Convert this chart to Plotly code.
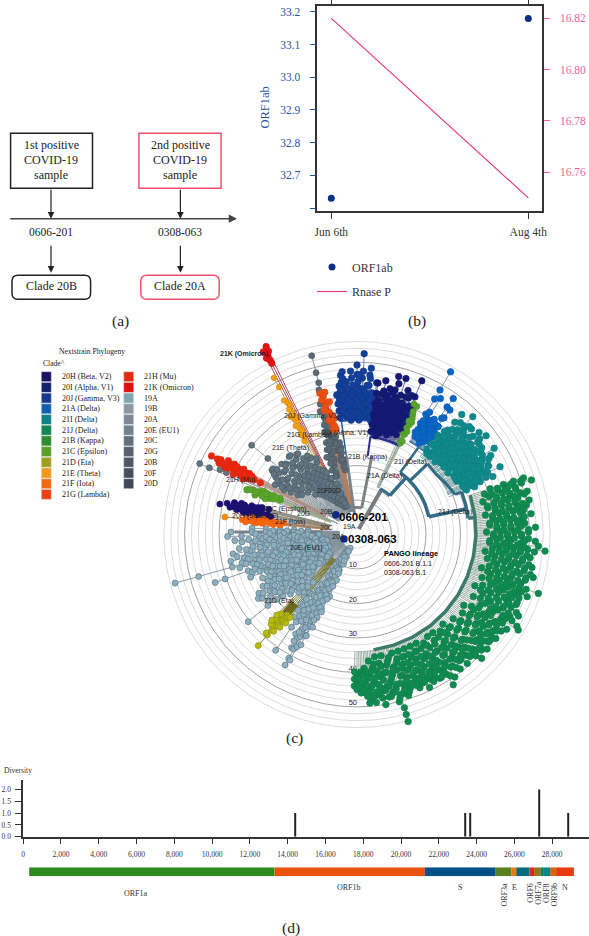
import plotly.graph_objects as go

W, H = 589, 936
SERIF = "Liberation Serif"
SANS = "Liberation Sans"

# ---------- panel (b) data
DATES = ["Jun 6th", "Aug 4th"]
ORF1AB = [32.63, 33.18]
RNASEP = [16.82, 16.75]

# ---------- panel (d) data
DIV_POS = [14390, 23410, 23648, 27300, 28860]
DIV_VAL = [1.0, 1.0, 1.0, 2.0, 1.0]
X_TICKS = [0, 2000, 4000, 6000, 8000, 10000, 12000, 14000, 16000, 18000, 20000, 22000, 24000, 26000, 28000, 30000]
X_TICKTEXT = ["0", "2,000", "4,000", "6,000", "8,000", "10,000", "12,000", "14,000", "16,000", "18,000", "20,000", "22,000", "24,000", "26,000", "28,000", ""]
GENE_START = [320, 13300, 21260, 25010, 25850, 26100, 26800, 27040, 27400, 27560, 27890, 28210]
GENE_END = [13300, 21260, 25010, 25850, 26100, 26800, 27040, 27400, 27560, 27890, 28210, 29150]
GENE_COLOR = ["#2e8b22", "#ea530e", "#055187", "#59801f", "#ea7a10", "#08697c", "#e3241b", "#8a7b1a", "#0f7a6f", "#0a8288", "#cf6a10", "#e63a0f"]

# ---------- panel (c) legend
LEG1_NAMES = ["20H (Beta, V2)", "20I (Alpha, V1)", "20J (Gamma, V3)", "21A (Delta)", "21I (Delta)", "21J (Delta)", "21B (Kappa)", "21C (Epsilon)", "21D (Eta)", "21E (Theta)", "21F (Iota)", "21G (Lambda)"]
LEG1_COLORS = ["#1a1160", "#141f6e", "#173a8e", "#0f5fb0", "#0f8285", "#128650", "#2f8b30", "#58a028", "#a0a018", "#f09a18", "#f56a10", "#ee4015"]
LEG2_NAMES = ["21H (Mu)", "21K (Omicron)", "19A", "19B", "20A", "20E (EU1)", "20C", "20G", "20B", "20F", "20D"]
LEG2_COLORS = ["#e62a12", "#e01010", "#7fa8b4", "#8a98a4", "#7d8a96", "#6f828e", "#62707e", "#57606e", "#4e5866", "#474f5c", "#40485a"]

# ---------- panel (c) rings
RINGS_LIGHT = [2, 4, 6, 8, 12, 14, 16, 18, 22, 24, 26, 28, 32, 34, 36, 38, 42, 44, 46, 48, 52, 54, 56]
RINGS_DARK = [10, 20, 30, 40, 50]

# ---------- panel (c) tree: each clade = spoke angles (deg) + node divergences along the spoke
T20E_A = [178,180,182,184,186,188,190,191.6,193,195,195.7,197,199.6,201,203,204,206,208,210,212,214,215,217,219.5,221,223,226,229,232,234,235.5,237,239,240.5,241.6,242.4,243.6,245,247]
T20E_N = [[14,18,22,26,30],[36,30,26,22,18,14],[37,33,28,24,20,16],[35,31,27,23,19,15,11],[30,26,22,18,13],[34,30,26,21,17,12],[36,31,27,23,19,15,10],[35,32,28,24,20,16,12],[37,33,29,25,21,17,13,9],[34,30,26,22,18,14,10],[54,47,37],[35,31,27,23,19,15,11],[43,40,33,29,25,21,17,13],[32,28,24,20,16,12,9],[33,28,25,21,18,14,10],[28,24,20,16,12],[30,26,22,19,15,11],[27,23,20,16,13,9],[31,27,24,20,17,13,10],[33,29,25,21,17,14,11],[34,30,26,22,18,14,10],[33,29,25],[31,27,23,19,15,12],[40.3,33,28,24,20,16,13,10],[28,24,20,17,13],[26,22,18],[24,20],[23,19],[26,22],[30,26,22],[41,33,29,25,20],[28,24,20,15,11],[34,30,27,23,19,14,10],[38,35,32,28,24,20,16,12,8],[43.2,41,38,34,31,27,23,19,16],[41.3,37,33,29,25,21,17,13,10,7],[36,33,30,26,22,18,14,10],[30,27,24,20,16,12,9,6],[20,15,10,7.6,5]]
T20E2_A = [179,181,183,185,187,189,192.5,194,196,198,200,202,205,207,209,211,213,216,218,220,222,224,225,228,231,233,236,238,240,244,246]
T20E2_N = [[24,20,16],[29,25,21,17],[26,22,18,14],[33,29,25,21,17,13],[28,24,20,16],[32,28,24,20,16,12],[30,26,22,18,14,10],[32,28,24,20,16,12],[33,29,25,21,17,13,9],[30,26,22,18,14,10],[31,27,23,19,15,11],[30,26,22,18,14,10],[27,23,19,15,11],[28,25,21,17,14,10],[29,25,22,18,15,11],[30,26,22,18,15,12],[32,28,24,20,16,12],[29,25,21,17,13],[32,28,24,20,16,13,10],[30,26,22,18,14,11],[25,21],[23],[22],[21],[24],[28,24],[31,27,22,18],[30,26,22,17,13],[36,33,29,25,21,17,13,9],[33,28,24,20,16,12,8],[25,21,17,13,9,6]]
T20B_A = [150,148,146,144,143,140.5,141,138,136,134,132,130,128,126,124,122,120,118,116,114,112,156.5,155.5]
T20B_N = [[24,27],[20,26],[19,24,28],[22,30],[25,28,30],[27,33,39],[18,23],[16,21,25,29],[18,23,28],[15,20,26],[14,19,24,29],[13,17,22,27],[12,18,23,28],[11,16,21,26],[10,15,20,25],[10,14,19,25],[9,13,18,23],[9,12,16,20],[8,12,17],[8,11,15],[8,10,14],[49,46],[43,41]]
T20B2_A = [149,147,145,142,139,137,135,133,131,129,127,125,123,121,119,117,115,113]
T20B2_N = [[22,25],[23,27],[21,26,29],[20,25,29],[22,27],[19,24,28],[21,26],[17,22,27],[16,21,25,29],[15,20,25],[14,19,24,28],[13,18,23],[12,17,22,26],[11,16,21],[11,15,20,24],[10,14,19],[10,13,17],[9,12,15]]
T20F_A = [104.4,105,106,107,105.5,104,103,102,101,100.7,108,109,110,112]
T20F_N = [[52,47,44,41,38],[42,36],[38,34,31],[36,32,29],[33,29,26],[36,31,27,24],[28,24,21],[30,26,22],[26,23,20],[24.6,21,18],[30,27,24],[27,23,20],[25,21,17],[23,19]]
T20F2_A = [105,103.5,102.5,101.5,106.5,107.5,108.5,109.5,111]
T20F2_N = [[34,31,28],[33,29,26],[28,24],[24,21,19],[27,24],[26,22],[25,21],[22,18],[21,17]]
T21G_A = [103,104,105,102,101.5]
T21G_N = [[41,38,35,32,30],[40,37,33],[41,39,36],[38,34,31],[33,30]]
T21E_A = [118.3,119,120,117.8]
T21E_N = [[50,47,42,39,36,33],[43,40,37,34,31],[38,35,32,30],[41,37]]
T21K_A = [116.1,116.8,117.5]
T21K_N = [[59,57.5],[56.5,55,54],[58,56]]
T21H_A = [152.4,153,152,154,151,155,152.7,153.5,151.5]
T21H_N = [[46.9,45],[43,40,37,35,33,31],[44,41,38,36,34],[42,39,37,35],[42,40,37],[39,36],[41,39,36],[44,41,38,34],[39,35]]
T21C_A = [159,158,157.4,156.5,160,158.5,157]
T21C_N = [[33.7,31,29,27],[32,30,28,26],[30,27,25,23.8],[29,26,24],[31,28],[33,31,29,26],[28,25]]
T20H_A = [168.5,167,169,170,166,171,165.5,167.5,169.5,166.5]
T20H_N = [[40,36,34,32,30],[36,33,30,28],[37,34,31,28,26],[33,30,27,25],[34,31,29],[32,29,26],[28,26],[38,35,32,29],[35,32,29,27],[36,33,30]]
T21F_A = [174,173,175,172,173.6,174.5]
T21F_N = [[33,31,29,27,25,23],[32,30,28,26,24,21],[32,29,27,24,22],[30,27],[28,26,24,22],[30,28,25]]
T21E2_A = [173.5]
T21E2_N = [[38]]
T21D_A = [229,228,230,227,231,226,232]
T21D_N = [[43,39,37,35,33],[38.8,36,34,32],[37,35,33,31],[36,34,32],[35,33,31.4],[35,33],[33,31]]
T20J_A = [98.4,97,96,95,94,93,92,91,90,89,88,87.7,87,86,85,84,83,82.5]
T20J_N = [[39.6,37,35,33],[42,40,37,34],[45,43,40,37,34],[41,38,36,33],[43,40,38,35],[39,37,34,32],[44,41,38,36,33],[40,38,35,33],[47.7,45,42,39,36,33],[41,38,35,32],[44,40,37,34],[51,46],[39,36,33],[42,38,35],[47,44,39,36,33],[40,37,34],[38,35,32],[43,39,36]]
T20J2_A = [97.6,96.6,95.6,94.6,93.6,92.6,91.6,90.6,89.6,88.6,87.4,86.6,85.6,84.6,83.6,95.3,92.3,89.3,85.3]
T20J2_N = [[38,35],[41,38,35],[39,36,34],[42,37,34],[41,38,36],[37,35,33],[42,39,36],[38,36,34],[43,40,37,34],[39,36,33],[41,38,35],[40,37,34],[37,34],[38,35],[36,33],[44,46],[46],[45],[45,42]]
T20I_A = [82,81,80,79,78,77,76,75,74,73,72.3,71,70,69,68,66.8,65.8]
T20I_N = [[43,40,37,34,31,29],[38,35,33,30],[40,37,34,31],[36,33,30,28],[39,36,33,30],[42,38,35,32,29],[37,34,31],[46,42,39,36,33,30],[40,37,34,31],[38,35,32,29],[46,41,38,35,32],[39,36,33,30],[37,34,31],[41,38,35,32],[36,33,30],[47,42,38,35,32],[39.2,36,33]]
T20I2_A = [81.5,80.5,79.5,78.5,77.5,76.5,75.5,74.5,73.5,72.8,71.5,70.5,69.5,68.5,67.5,66.2,79.2,74.2,70.2,68.2]
T20I2_N = [[36,33,31],[38,35,32,30],[34,32,29],[37,34,31],[40,36,33,31],[39,35,32,30],[41,37,34,31],[38,35,32],[36,33,30],[39,36,33,30],[37,34,31],[39,35,32],[37,34,31],[38,35,33],[39,36,33],[36,33],[44,41],[44],[43,41],[42]]
T21B_A = [64.5,64,63.5,65,66]
T21B_N = [[39.7,37,35,33,31,29],[36,34,31,28.2],[35,32,29],[38,35],[40]]
T21A_A = [59.7,58.8,58,57,56,55.6,55,54.2,53.7,53.3,52.7,52,51]
T21A_N = [[53,47,44,39,36,33],[40,37,35,32],[45,38,35,33],[38,36,33],[37,35,33,31.9],[39,34,32],[36,34,31],[47,44,38,35],[36.8,34,32],[40.5,37],[43.8,41,38,35],[36,33],[35,33]]
T21A2_A = [59.2,58.4,57.5,56.5,55.2,54.6,53,52.4]
T21A2_N = [[37,34],[36,33],[35,32],[38,34],[37,33],[36,33],[35,33],[38,34]]
T21I_A = [50,48.3,47,46,44.9,43.5,42,41,39.5,38,36.7,35,34,33,31.4,30,29,28,27,26,24.5,24,23,22.2,21]
T21I_N = [[36,33,31],[45,42,39,36,33,30],[40,37,34,31],[38,35,32,30],[46.7,43,40,37,34,31],[42,38,35,32],[44,41,38,35,32,30],[39,36,33],[43,40,37,34,31],[41,38,35,32],[46,43,40,37,34,31],[41,38,35,32],[43,39,36,33],[40,37,34,31],[45.9,42,39,36,33],[41,38,35,32],[43,39,36,33],[40,37,34],[42,38,35,32],[40,37,34,33],[44.9,41,38,35],[38,36,33],[40,37,34],[41.9,38,35],[36,33.5]]
T21I2_A = [49,47.6,45.5,44.2,42.8,41.5,40.2,38.8,37.4,35.8,34.5,32.5,30.8,29.5,28.5,27.5,25.5,23.5,22.8,46.6,43.2,39.2,37.2,33.6,29.8,26.6]
T21I2_N = [[38,35],[37,34],[41,36,33],[39,36,33],[41,37,34],[40,36,33],[42,38,35,32],[39,36,33],[41,37,34],[43,39,36,33],[40,37,34],[42,38,35],[40,37,34],[41,38,35],[38,35,32],[39,36,33],[39,36,34],[37,35],[36,33],[43],[44],[45],[44],[42],[44],[42]]
T21J_A = [18,16.6,15,13.5,12,10.5,9,7.5,6,4.5,3,1.5,0,-1.5,-3,-4.5,-5.8,-7,-8.5,-10,-11.5,-13,-14.5,-16,-17.5,-18.7,-20,-21.5,-23,-24.5,-26,-27.5,-29,-30.5,-31.3,-33,-34.5,-36,-37.5,-39,-40.5,-42,-43.5,-45.4,-47,-48.5,-50,-51.5,-53,-54.5,-56,-57.8,-59,-60.5,-62,-63.5,-65,-66.5,-68,-69.5,-71,-72.5,-74,-74.9,-76,-77.5,-79,-80.5,-82,-83.5,-85,-85.7,-87,-88.5,-90,-91]
T21J_N = [[40,44,47,50],[38,42,45,49,52],[39,43,47],[37,41,45,48,50],[40,44,47],[38,42,46,50],[40,44,47,49],[37,41,45,48],[39,43,50],[40,44,47],[38,42,46,48],[40,44,51],[37,41,45,49],[39,43,47],[40,44,48,51],[38,42,46,52],[41,45,49,54],[39,43,47],[37,42,46,50],[40,44,48],[38,43,47,51],[41,45,49],[39,44,48,52],[37,42,46,50],[40,45,49],[43,47,51,54.7],[38,42,46,50],[41,45,49],[39,44,48],[37,42,47,50],[40,45,49],[43,47,52],[38,42,46,50],[41,45,49,53],[44,48,53.9],[39,43,47,51],[37,42,46,50],[40,44,48],[38,43,47,50],[41,45,49],[39,44,48],[37,42,46,50],[40,45,49],[38,43,47,50.7],[36,41,45,48],[39,44,47],[37,42,46,49],[40,44,47],[36,41,45,49],[38,43,47],[36,41,45,50],[39,44,48,51.6],[37,42,46],[40,44,48],[36,41,45,47],[38,43,47],[36,40,44,49],[39,43,47],[36,41,45,48],[38,42,46],[36,40,44,47],[38,43,46,49],[36,41,45,48],[40,48,52,56.1,54],[37,42,46,50],[39,44,47],[36,41,45,48],[38,42,46,50],[36,40,44,47],[39,43,47,49],[37,41,45,48],[42,46,49],[39,43,46],[40,44,46],[41,43,45],[40,42,44]]
T21J2_A = [17.3,15.8,14.2,12.8,11.2,9.8,8.2,6.8,5.2,3.8,2.2,0.8,-0.8,-2.2,-3.8,-5.2,-6.4,-7.8,-9.2,-10.8,-12.2,-13.8,-15.2,-16.8,-18,-19.4,-20.8,-22.2,-23.8,-25.2,-26.8,-28.2,-29.8,-32,-33.8,-35.2,-36.8,-38.2,-39.8,-41.2,-42.8,-44.5,-46.2,-47.8,-49.2,-50.8,-52.2,-53.8,-55.2,-57,-58.4,-59.8,-61.2,-62.8,-64.2,-65.8,-67.2,-68.8,-70.2,-71.8,-73.2,-75.5,-76.8,-78.2,-79.8,-81.2,-82.8,-84.2,-86.3,-87.8,-89.2]
T21J2_N = [[42,46,49],[40,44,47],[41,45],[43,46,49],[38,42,46],[40,44,48],[42,46],[39,43,47],[41,45,48],[38,42,46],[40,44,47],[42,46,49],[39,43,47],[41,45,49],[38,43,47],[40,44,48],[43,47,51],[41,45,49],[39,44,48],[42,46,50],[40,45,49],[43,47,51],[41,46,50],[39,44,48],[42,46,49],[40,45,49],[44,48,52],[43,47,50],[41,46,50],[39,44,48],[42,47,51],[40,45,49],[44,48,51],[41,45,49],[40,44,48],[42,46,49],[40,45,48],[43,47,49],[41,46,49],[39,44,47],[42,46,48],[40,44,48],[38,43,46,49],[41,45,48],[38,43,46],[40,44,47],[38,42,46],[41,45,48],[39,43,47],[41,46,49],[38,43,47],[41,45,48],[38,43,46],[40,45,48],[38,42,46],[41,45,47],[38,43,46],[40,44,47],[38,42,46],[41,45,48],[39,43,47],[41,45,49],[38,43,47],[41,45,48],[39,43,46],[41,45,48],[38,42,46],[40,44,47],[40,44,47],[41,45],[42,44]]

# clade: angles, nodes, stem base, node colour, edge colour, stem colour, size
CLADES = [
    (T20E_A + T20E2_A, T20E_N + T20E2_N, 5, "#8db0c0", "#5f7684", "#7f8e97", 6),
    (T20B_A + T20B2_A, T20B_N + T20B2_N, 6, "#607581", "#4a5a64", "#87939a", 6),
    (T20F_A + T20F2_A, T20F_N + T20F2_N, 6, "#5a6a75", "#4a5862", "#7a868e", 6),
    (T21E_A, T21E_N, 8, "#f2a20e", "#d98a10", "#b59a48", 5.5),
    (T21G_A, T21G_N, 8, "#ea4f12", "#e0480e", "#c87b50", 6.5),
    (T21K_A, T21K_N, 8, "#e51212", "#d01010", "#a23a50", 6.5),
    (T21C_A, T21C_N, 8, "#5aa52b", "#4f9625", "#9aa58a", 6.5),
    (T21H_A, T21H_N, 10, "#e8270f", "#e0250f", "#a88a80", 6.5),
    (T20H_A, T20H_N, 8, "#1c1070", "#1c1070", "#8a8478", 6),
    (T21F_A, T21F_N, 8, "#f5660f", "#ee600f", "#b8886a", 5.5),
    (T21E2_A, T21E2_N, 8, "#f58c10", "#e07f10", "#8a7a60", 6),
    (T21D_A, T21D_N, 10, "#b5bb10", "#8f9410", "#6f6f20", 6),
    (T20J_A + T20J2_A, T20J_N + T20J2_N, 32, "#13409a", "#12368a", "#5b78b0", 6.5),
    (T20I_A + T20I2_A, T20I_N + T20I2_N, 27.5, "#141a72", "#141a72", "#55588f", 6.5),
    (T21A_A + T21A2_A, T21A_N + T21A2_N, 30, "#0a66c6", "#0a5cb0", "#6f8fa8", 6.5),
    (T21I_A + T21I2_A, T21I_N + T21I2_N, 28, "#0f8a8c", "#0e7f80", "#7fa3a5", 6.5),
    (T21B_A, T21B_N, 14, "#55a52e", "#4b9628", "#8fa090", 6),
    (T21J_A + T21J2_A, T21J_N + T21J2_N, 34, "#0f8a50", "#0e804a", "#8fa79c", 6.5),
]

# thick internal branches of the tree: (theta list, r list, colour, width)
BRANCHES = [
    ([98, 98], [5, 22], "#7c8286", 3),
    ([98, 94, 88, 83, 79], [7, 7, 7, 7, 7], "#7c8286", 3),
    ([79, 79], [7, 22], "#7c8286", 3),
    ([60, 60], [1, 14], "#777c80", 4),
    ([180, 180], [10, 35], "#7c8286", 3),
    ([229, 229], [27, 31], "#6f6a20", 9),
    ([62, 55, 48], [14, 14, 14], "#3f7088", 3.5),
    ([48, 48], [14, 21], "#336b85", 3.5),
    ([54, 46, 38, 30, 22, 12], [21, 21, 21, 21, 21, 21], "#336b85", 3.5),
    ([12, 12], [21, 32], "#336b85", 3.5),
    ([21, 14, 7], [32, 32, 32], "#336b85", 3.5),
    ([44, 44], [21, 28], "#336b85", 3),
    ([44, 36, 28, 21], [28, 28, 29, 30], "#336b85", 3),
    ([21, 21], [30, 32], "#336b85", 3),
    ([54, 54], [21, 30], "#336b85", 2.5),
    ([60, 55, 50], [30, 30, 30], "#3f7ea8", 2),
    ([99, 95, 91, 87, 83], [32, 32, 32, 32, 32], "#2a5aa0", 2),
    ([82, 76, 70, 64], [27.5, 27.5, 27.5, 27.5], "#2c2f8a", 2.5),
    ([82, 82], [22, 27.5], "#2c2f8a", 2),
    ([98, 98], [22, 32], "#2a5aa0", 1.5),
    ([7, 7], [32, 34], "#3c7a6a", 3.5),
    ([18, 8, -2, -12, -22, -32, -42, -52, -62, -72, -82], [34, 34, 34, 34, 34, 34, 34, 34, 34, 34, 34], "#3c7a6a", 3.5),
]
SAMPLE_THETA = [141, 208]
SAMPLE_R = [7.8, 4.2]


def X(x):
    return x / W


def Y(y):
    return 1 - y / H


fig = go.Figure()
annots = []
shapes = []


def label(text, x, y, size=12, color="#222", family=SERIF, bold=False, angle=0, anchor="center"):
    annots.append(dict(text=f"<b>{text}</b>" if bold else text, x=X(x), y=Y(y), xref="paper", yref="paper",
                       showarrow=False, xanchor=anchor, yanchor="middle", textangle=angle,
                       font=dict(size=size, color=color, family=family)))


def arrow(x, y0, y1, color="#222"):
    annots.append(dict(text="", x=X(x), y=Y(y1), ax=0, ay=y0 - y1, xref="paper", yref="paper",
                       axref="pixel", ayref="pixel", showarrow=True, arrowhead=2, arrowsize=1.1,
                       arrowwidth=1.2, arrowcolor=color))


# ---------- panel (a)
RED = "#f0506e"
for x0, x1, c in [(10.6, 92.5, "#222"), (138.9, 221.1, RED)]:
    shapes.append(dict(type="rect", xref="paper", yref="paper", x0=X(x0), x1=X(x1), y0=Y(133.3), y1=Y(188.3),
                       line=dict(color=c, width=1.5)))
for x0, x1, c in [(12, 90.6, "#222"), (140.8, 219.2, RED)]:
    a0, a1, b0, b1 = X(x0), X(x1), Y(275.3), Y(299.3)
    rx, ry = 6 / W, 6 / H
    path = (f"M {a0+rx} {b0} L {a1-rx} {b0} Q {a1} {b0} {a1} {b0-ry} L {a1} {b1+ry} Q {a1} {b1} {a1-rx} {b1} "
            f"L {a0+rx} {b1} Q {a0} {b1} {a0} {b1+ry} L {a0} {b0-ry} Q {a0} {b0} {a0+rx} {b0} Z")
    shapes.append(dict(type="path", xref="paper", yref="paper", path=path, line=dict(color=c, width=1.5)))
for cx, lines in [(51, ["1st positive", "COVID-19", "sample"]), (180.4, ["2nd positive", "COVID-19", "sample"])]:
    for yy, t in zip([145.3, 160, 175], lines):
        label(t, cx, yy, 12)
    arrow(cx, 188.3, 218.7)
    arrow(cx, 244.3, 272.7)
annots.append(dict(text="", x=X(237), y=Y(218.7), ax=8.7 - 237, ay=0, xref="paper", yref="paper", axref="pixel",
                   ayref="pixel", showarrow=True, arrowhead=2, arrowsize=1.1, arrowwidth=1.5, arrowcolor="#444"))
label("0606-201", 51, 232, 11.5)
label("0308-063", 180.4, 232, 11.5)
label("Clade 20B", 51, 286, 12)
label("Clade 20A", 180, 286, 12)
label("(a)", 120.4, 321, 15.5)
label("(b)", 417.4, 321, 15.5)
label("(c)", 294, 738, 15.5)
label("(d)", 291.3, 928.3, 15.5)

# ---------- panel (b)
BLUE = "#2a52a0"
PINK = "#f0609a"
fig.add_trace(go.Scatter(x=DATES, y=ORF1AB, mode="markers", name="ORF1ab", xaxis="x", yaxis="y",
                         marker=dict(color="#0b2f86", size=7), legend="legend"))
fig.add_trace(go.Scatter(x=DATES, y=RNASEP, mode="lines", name="Rnase P", xaxis="x", yaxis="y2",
                         line=dict(color="#e8336e", width=1.1), legend="legend2"))
label("ORF1ab", 264.5, 108, 12.5, BLUE, angle=-90)

# ---------- panel (c) legend
for i, (n, c) in enumerate(zip(LEG1_NAMES, LEG1_COLORS)):
    fig.add_trace(go.Scatter(x=[0], y=[i], mode="markers", xaxis="x3", yaxis="y5", showlegend=False, cliponaxis=False,
                             marker=dict(symbol="square", size=10, color=c, line=dict(color="#dfe6e6", width=0.5))))
    label(n, 60, 376.7 + 10.7 * i, 8, "#222", anchor="left")
for i, (n, c) in enumerate(zip(LEG2_NAMES, LEG2_COLORS)):
    fig.add_trace(go.Scatter(x=[1], y=[i], mode="markers", xaxis="x3", yaxis="y5", showlegend=False, cliponaxis=False,
                             marker=dict(symbol="square", size=10, color=c, line=dict(color="#dfe6e6", width=0.5))))
    label(n, 141.7, 376.7 + 10.7 * i, 8, "#222", anchor="left")
label("Nextstrain Phylogeny", 91.7, 351, 7.6)
label("Clade^", 41, 363.3, 7.6, anchor="left")

# ---------- panel (c) rings
fig.add_trace(go.Scatterpolar(r=RINGS_LIGHT, theta=[0] * len(RINGS_LIGHT), mode="markers", subplot="polar", showlegend=False,
                              marker=dict(size=1, opacity=0)))
fig.add_trace(go.Scatterpolar(r=RINGS_DARK, theta=[270] * len(RINGS_DARK), mode="text", subplot="polar2", showlegend=False,
                              text=[str(v) for v in RINGS_DARK], textposition="top left", cliponaxis=False,
                              textfont=dict(size=7.5, color="#222", family=SANS)))

# ---------- panel (c) tree
for angles, nodes, base, fill, edge, stem, size in CLADES:
    st, sr = [], []
    for a, ns in zip(angles, nodes):
        st += [a, a, None]
        sr += [base, max(ns), None]
    fig.add_trace(go.Scatterpolar(r=sr, theta=st, mode="lines", subplot="polar3", showlegend=False, cliponaxis=False,
                                  line=dict(color=stem, width=0.9)))
for th, rr, col, wid in BRANCHES:
    fig.add_trace(go.Scatterpolar(r=rr, theta=th, mode="lines", subplot="polar3", showlegend=False, cliponaxis=False,
                                  line=dict(color=col, width=wid)))
for angles, nodes, base, fill, edge, stem, size in CLADES:
    nt, nr = [], []
    for a, ns in zip(angles, nodes):
        for v in ns:
            nt.append(a)
            nr.append(v)
    fig.add_trace(go.Scatterpolar(r=nr, theta=nt, mode="markers", subplot="polar3", showlegend=False, cliponaxis=False,
                                  marker=dict(color=fill, size=size, line=dict(color=edge, width=0.7))))
fig.add_trace(go.Scatterpolar(r=SAMPLE_R, theta=SAMPLE_THETA, mode="markers", subplot="polar3", showlegend=False, cliponaxis=False,
                              marker=dict(color="#0b2a80", size=7.5)))

TREE_LABELS = [("21K (Omicron)", 244, 354), ("20J (Gamma, V3)", 311.7, 416), ("21G (Lambda)", 309.3, 435),
               ("20I (Alpha, V1)", 345, 433.3), ("21E (Theta)", 290, 448.3), ("21B (Kappa)", 367.3, 457.3),
               ("21A (Delta)", 384, 476), ("21I (Delta)", 410, 461.7), ("21J (Delta)", 455, 512.3),
               ("21H (Mu)", 241, 480), ("20F", 322.7, 490), ("20D", 334, 490.7), ("21C (Epsilon)", 285, 509.3),
               ("20B", 326.7, 511.7), ("21F (Iota)", 290, 521.7), ("20H (Beta, V2)", 255, 515.7), ("20G", 303, 513),
               ("20C", 326.7, 527.3), ("19A", 350, 526.7), ("20A", 338, 536.7), ("20E (EU1)", 306, 548.3),
               ("21D (Eta)", 279.3, 600.7)]
for t, x, y in TREE_LABELS:
    label(t, x, y, 7, "#222", SANS, bold=t == "21K (Omicron)")
label("0606-201", 364, 517, 11.5, "#000", SANS, bold=True)
label("0308-063", 372, 539, 11.5, "#000", SANS, bold=True)
label("PANGO lineage", 381.7, 553.7, 7.4, "#000", SANS, bold=True, anchor="left")
label("0606-201 B.1.1", 381.7, 563, 7, "#111", SANS, anchor="left")
label("0308-063 B.1", 381.7, 572, 7, "#111", SANS, anchor="left")

# ---------- panel (d)
fig.add_trace(go.Bar(x=DIV_POS, y=DIV_VAL, width=70, xaxis="x2", yaxis="y3", showlegend=False,
                     marker=dict(color="#222", line=dict(width=0))))
fig.add_trace(go.Bar(y=[0] * len(GENE_START), base=GENE_START, x=[e - s for s, e in zip(GENE_START, GENE_END)], orientation="h",
                     width=1, xaxis="x2", yaxis="y4", showlegend=False,
                     marker=dict(color=GENE_COLOR, line=dict(width=0))))
label("Diversity", 18, 770.7, 7.5, "#333")
for t, x, y, ang in [("ORF1a", 136, 893.3, 0), ("ORF1b", 349, 887.3, 0), ("S", 460, 887.3, 0), ("ORF3a", 503.6, 895, -90),
                     ("E", 514.5, 887.3, 0), ("ORF6", 531, 892.7, -90), ("ORF7a", 538.5, 893.3, -90), ("ORF8", 546.3, 892.7, -90),
                     ("ORF9b", 553.5, 895, -90), ("N", 565, 887.3, 0)]:
    label(t, x, y, 8, "#333", angle=ang)

ring_polar = lambda vals, col, wid, dom: dict(
    domain=dom, bgcolor="rgba(0,0,0,0)",
    angularaxis=dict(visible=False),
    radialaxis=dict(range=[0, 58], tickvals=vals, showgrid=True, gridcolor=col, gridwidth=wid, griddash="solid",
                    showline=False, showticklabels=False, ticks=""))
ring_dom = dict(x=[X(157), X(557)], y=[Y(734.5), Y(334.5)])

fig.update_layout(
    width=W, height=H, margin=dict(l=0, r=0, t=0, b=0, autoexpand=False), paper_bgcolor="white", plot_bgcolor="rgba(0,0,0,0)",
    showlegend=True, barmode="overlay",
    legend=dict(x=X(312), y=Y(267), xanchor="left", yanchor="middle", bgcolor="rgba(0,0,0,0)", font=dict(size=12, family=SERIF, color="#333")),
    legend2=dict(x=X(312), y=Y(291.5), xanchor="left", yanchor="middle", bgcolor="rgba(0,0,0,0)", font=dict(size=12, family=SERIF, color="#333")),
    xaxis=dict(domain=[X(317.4), X(541.9)], range=[-0.0706, 1.069], anchor="y", type="category", showline=True, linecolor="#333", linewidth=1.5,
               mirror="ticks", ticks="outside", ticklen=7, tickcolor="#333", showgrid=False, zeroline=False,
               tickfont=dict(size=11.5, family=SERIF, color="#333"), ticklabelstandoff=3),
    yaxis=dict(domain=[Y(210.7), Y(6)], range=[32.592, 33.218], anchor="x", tickvals=[32.6, 32.7, 32.8, 32.9, 33.0, 33.1, 33.2],
               ticktext=["", "32.7", "32.8", "32.9", "33.0", "33.1", "33.2"], ticks="outside", ticklen=6, tickcolor=BLUE, showgrid=False, zeroline=False,
               showline=True, linecolor="#333", linewidth=1.5, tickfont=dict(size=11.5, family=SERIF, color=BLUE), ticklabelstandoff=7),
    yaxis2=dict(overlaying="y", side="right", anchor="x", range=[16.745, 16.8248], tickvals=[16.76, 16.78, 16.80, 16.82],
                ticktext=["16.76", "16.78", "16.80", "16.82"], ticks="outside", ticklen=6, tickcolor=PINK, showgrid=False, zeroline=False,
                showline=True, linecolor="#333", linewidth=1.5, tickfont=dict(size=11.5, family=SERIF, color=PINK), ticklabelstandoff=8),
    xaxis2=dict(domain=[X(23.2), 1], range=[0, 29950], anchor="y3", tickvals=X_TICKS, ticktext=X_TICKTEXT, ticks="outside", ticklen=6,
                tickcolor="#333", showgrid=False, zeroline=False, showline=True, linecolor="#333", linewidth=1.5,
                tickfont=dict(size=7.5, family=SERIF, color="#333"), ticklabelstandoff=4),
    yaxis3=dict(domain=[Y(836.7), Y(780)], range=[0, 2.4], anchor="x2", tickvals=[0, 0.5, 1, 1.5, 2], ticktext=["0.0", "0.5", "1.0", "1.5", "2.0"],
                ticks="outside", ticklen=6, tickcolor="#333", showgrid=False, zeroline=False, showline=True, linecolor="#333", linewidth=1.5,
                tickfont=dict(size=7.5, family=SERIF, color="#333"), ticklabelstandoff=3),
    yaxis4=dict(domain=[Y(876.3), Y(867.3)], range=[-0.5, 0.5], anchor="x2", visible=False),
    xaxis3=dict(domain=[X(46.3), X(128.7)], range=[0, 1], anchor="y5", visible=False),
    yaxis5=dict(domain=[Y(494.4), Y(376.7)], range=[11, 0], anchor="x3", visible=False),
    polar=ring_polar(RINGS_LIGHT, "#dcdcdc", 1, ring_dom),
    polar2=ring_polar(RINGS_DARK, "#a2a2a2", 1.4, ring_dom),
    polar3=dict(domain=dict(x=[X(140), X(574)], y=[Y(749), Y(315)]), bgcolor="rgba(0,0,0,0)",
                angularaxis=dict(visible=False), radialaxis=dict(visible=False, range=[0, 62])),
    annotations=annots, shapes=shapes,
)
fig.write_html("out.html", config={"displayModeBar": False}, post_script="document.body.style.margin='0';")
